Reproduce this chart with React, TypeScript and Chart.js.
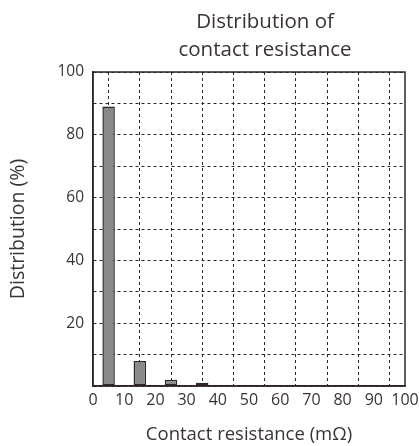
import React, { useEffect, useRef } from "react";
import { Chart, registerables } from "chart.js";

Chart.register(...registerables);

const binCenters = [5, 15, 25, 35];
const distribution = [89, 8, 2, 1];
const titleLines = ["Distribution of", "contact resistance"];
const xTitle = "Contact resistance (mΩ)";
const yTitle = "Distribution (%)";
const yLabelValues = [20, 40, 60, 80, 100];

const FONT = "'Open Sans', 'Noto Sans', sans-serif";
const TEXT = "#3a3333";
const LINE = "#2e2626";

const framePlugin = {
  id: "frame",
  afterDraw(chart: any) {
    const { ctx, chartArea } = chart;
    ctx.save();
    ctx.strokeStyle = LINE;
    ctx.lineWidth = 1.5;
    ctx.setLineDash([]);
    ctx.strokeRect(chartArea.left, chartArea.top, chartArea.right - chartArea.left, chartArea.bottom - chartArea.top);
    ctx.restore();
  },
};

const titlePlugin = {
  id: "twoLineTitle",
  afterDraw(chart: any) {
    const { ctx, chartArea } = chart;
    const cx = (chartArea.left + chartArea.right) / 2 + 16;
    ctx.save();
    ctx.fillStyle = TEXT;
    ctx.font = `20.5px ${FONT}`;
    ctx.textAlign = "center";
    ctx.textBaseline = "middle";
    ctx.fillText(titleLines[0], cx, 22);
    ctx.fillText(titleLines[1], cx, 50);
    ctx.restore();
  },
};

export default function App() {
  const ref = useRef<HTMLCanvasElement>(null);
  useEffect(() => {
    document.body.style.margin = "0";
    const canvas = ref.current!;
    const chart = new Chart(canvas, {
      type: "bar",
      data: {
        datasets: [
          {
            data: binCenters.map((x, i) => ({ x, y: distribution[i] })),
            backgroundColor: "#898989",
            borderColor: LINE,
            borderWidth: 1.5,
            borderSkipped: false,
            barPercentage: 0.4,
            categoryPercentage: 1,
          },
        ],
      },
      options: {
        animation: false,
        responsive: false,
        devicePixelRatio: 1,
        layout: { padding: { top: 72, right: 14, left: 0, bottom: 0 } },
        plugins: { legend: { display: false }, tooltip: { enabled: false }, title: { display: false } },
        scales: {
          x: {
            type: "linear",
            min: 0,
            max: 100,
            offset: false,
            grid: { color: LINE, lineWidth: 1, drawTicks: false },
            border: { display: true, color: LINE, width: 1.5, dash: [3, 3] },
            ticks: { stepSize: 10, color: TEXT, font: { family: FONT, size: 16 }, padding: 5, maxRotation: 0, autoSkip: false },
            title: { display: true, text: xTitle, color: TEXT, font: { family: FONT, size: 18.5 }, padding: { top: 4, bottom: 0 } },
            afterFit(scale: any) {
              scale.height = 60;
              scale.paddingRight = 0;
              scale.paddingLeft = 0;
            },
          },
          y: {
            type: "linear",
            min: 0,
            max: 100,
            grid: { color: LINE, lineWidth: 1, drawTicks: false },
            border: { display: true, color: LINE, width: 1.5, dash: [3, 3] },
            ticks: {
              stepSize: 10,
              color: TEXT,
              font: { family: FONT, size: 15.5 },
              padding: 9,
              autoSkip: false,
              callback: (v: any) => (yLabelValues.includes(Number(v)) ? String(v) : ""),
            },
            title: { display: true, text: yTitle, color: TEXT, font: { family: FONT, size: 19.5 }, padding: { top: 7, bottom: 4 } },
            afterFit(scale: any) { scale.width = 93; },
          },
        },
      },
      plugins: [framePlugin, titlePlugin],
    } as any);
    return () => chart.destroy();
  }, []);
  return <canvas ref={ref} width={419} height={446} style={{ display: "block" }} />;
}
